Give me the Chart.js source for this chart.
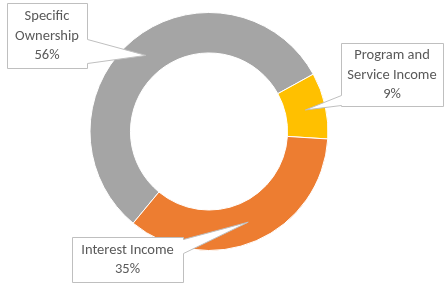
<!DOCTYPE html>
<html>
<head>
<meta charset="utf-8">
<script src="https://cdn.jsdelivr.net/npm/chart.js@4"></script>
<style>
  html, body { margin: 0; padding: 0; background: #fff; }
  #wrap { width: 444px; height: 283px; position: relative; }
</style>
</head>
<body>
<div id="wrap"><canvas id="income-chart" width="444" height="283"></canvas></div>
<script>
const categories = ["Specific Ownership", "Program and Service Income", "Interest Income"];
const shares = [56, 9, 35];
const sliceColors = ["#A5A5A5", "#FFC000", "#ED7D31"];

// callout boxes, one per slice (box position + where the pointer leaves the box)
const callouts = [
  { lines: ["Specific", "Ownership"], x: 7, y: 3, w: 80, h: 65, side: "right", w1: 39, w2: 63 },
  { lines: ["Program and", "Service Income"], x: 341, y: 43, w: 102, h: 63, side: "left", w1: 95, w2: 105 },
  { lines: ["Interest Income"], x: 72, y: 237, w: 111, h: 45, side: "right", w1: 239, w2: 253 },
];

const calloutPlugin = {
  id: "callouts",
  afterDatasetsDraw(chart) {
    const ctx = chart.ctx;
    const arcs = chart.getDatasetMeta(0).data;
    const data = chart.data.datasets[0].data;
    const total = data.reduce((a, b) => a + b, 0);
    ctx.save();
    arcs.forEach((arc, i) => {
      const c = callouts[i];
      const tip = arc.tooltipPosition();
      const x0 = c.x + 0.5, y0 = c.y + 0.5, x1 = c.x + c.w + 0.5, y1 = c.y + c.h + 0.5;
      ctx.beginPath();
      ctx.moveTo(x0, y0);
      ctx.lineTo(x1, y0);
      if (c.side === "right") {
        ctx.lineTo(x1, c.w1 + 0.5);
        ctx.lineTo(tip.x, tip.y);
        ctx.lineTo(x1, c.w2 + 0.5);
        ctx.lineTo(x1, y1);
        ctx.lineTo(x0, y1);
      } else {
        ctx.lineTo(x1, y1);
        ctx.lineTo(x0, y1);
        ctx.lineTo(x0, c.w2 + 0.5);
        ctx.lineTo(tip.x, tip.y);
        ctx.lineTo(x0, c.w1 + 0.5);
      }
      ctx.closePath();
      ctx.fillStyle = "#ffffff";
      ctx.fill();
      ctx.strokeStyle = "#BFBFBF";
      ctx.lineWidth = 1;
      ctx.stroke();

      const pct = Math.round((data[i] / total) * 100) + "%";
      const lines = c.lines.concat([pct]);
      ctx.fillStyle = "#595959";
      ctx.font = "14.5px Carlito, Lato, sans-serif";
      ctx.textAlign = "center";
      ctx.textBaseline = "middle";
      const lh = 19.5;
      const cy = c.y + c.h / 2 + 0.5;
      lines.forEach((t, k) => {
        ctx.fillText(t, c.x + c.w / 2, cy + (k - (lines.length - 1) / 2) * lh);
      });
    });
    ctx.restore();
  },
};

new Chart(document.getElementById("income-chart").getContext("2d"), {
  type: "doughnut",
  data: {
    labels: categories,
    datasets: [
      {
        data: shares,
        backgroundColor: sliceColors,
        borderColor: "#ffffff",
        borderWidth: 1,
      },
    ],
  },
  options: {
    responsive: false,
    animation: false,
    cutout: "66%",
    rotation: -140.4,
    layout: { padding: { top: 12, bottom: 32, left: 0, right: 26 } },
    plugins: {
      legend: { display: false },
      tooltip: { enabled: false },
    },
  },
  plugins: [calloutPlugin],
});
</script>
</body>
</html>
